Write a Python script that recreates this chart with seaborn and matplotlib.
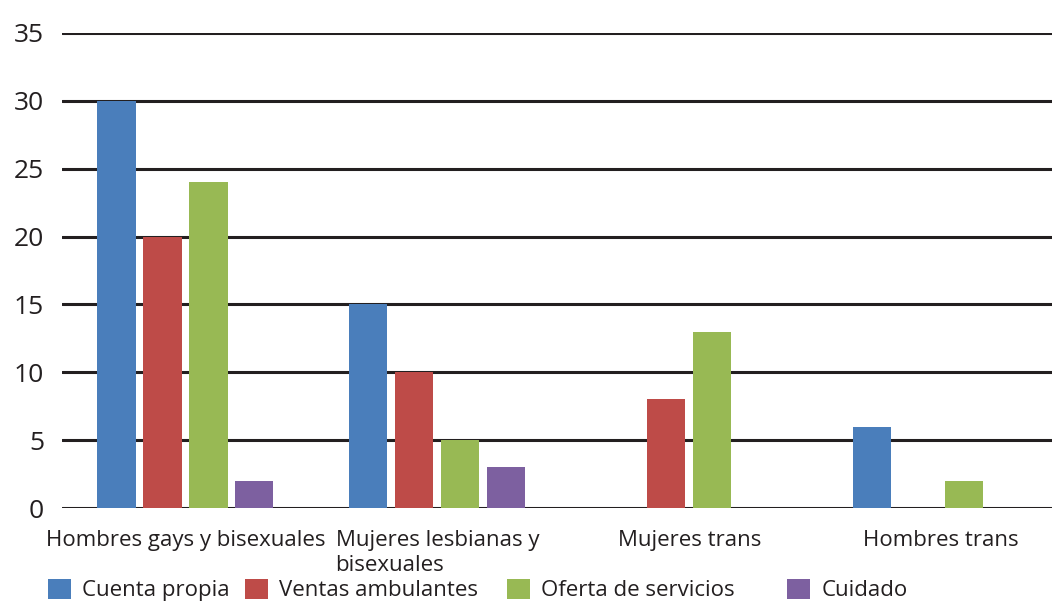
import numpy as np
import pandas as pd
import matplotlib
matplotlib.use("Agg")
import matplotlib.pyplot as plt
import seaborn as sns
from matplotlib.patches import Patch

# Data
groups = ["Hombres gays y bisexuales", "Mujeres lesbianas y\nbisexuales",
          "Mujeres trans", "Hombres trans"]
series = ["Cuenta propia", "Ventas ambulantes", "Oferta de servicios", "Cuidado"]
cuenta_propia = [30, 15, np.nan, 6]
ventas_ambulantes = [20, 10, 8, np.nan]
oferta_servicios = [24, 5, 13, 2]
cuidado = [2, 3, np.nan, np.nan]
colors = ["#4A7EBB", "#BE4B48", "#98B954", "#7D60A0"]

rows = []
for name, vals in zip(series, [cuenta_propia, ventas_ambulantes, oferta_servicios, cuidado]):
    for g, v in zip(groups, vals):
        rows.append({"grupo": g, "serie": name, "valor": v})
df = pd.DataFrame(rows)

sns.set_style("white")
plt.rcParams["font.family"] = ["Open Sans", "DejaVu Sans"]
text_color = "#231F20"

fig = plt.figure(figsize=(10.52, 6.05), dpi=100)
ax = fig.add_axes([62 / 1052, 1 - 508 / 605, 1 - 62 / 1052, (508 - 33) / 605])

sns.barplot(data=df, x="grupo", y="valor", hue="serie", hue_order=series,
            order=groups, palette=colors, saturation=1, width=0.73, gap=0.17,
            linewidth=0, ax=ax, legend=False, zorder=3)

ax.set_ylim(0, 35)
ax.set_xlim(-0.49, 3.44)
ax.set_yticks(range(0, 36, 5))
for y in range(0, 36, 5):
    ax.axhline(y, color=text_color, lw=2.2, zorder=2)
for s in ax.spines.values():
    s.set_visible(False)
ax.set_xlabel("")
ax.set_ylabel("")
ax.tick_params(axis="y", length=0, pad=13, labelsize=19, labelcolor=text_color)
ax.tick_params(axis="x", length=0, pad=16, labelsize=16, labelcolor=text_color)
for lab in ax.get_xticklabels():
    lab.set_multialignment("left")
    lab.set_verticalalignment("top")
    lab.set_linespacing(1.26)

# legend entries placed one by one, as in the reference
legend_x = [48, 245, 507, 787]
for name, c, x in zip(series, colors, legend_x):
    fig.legend([Patch(facecolor=c, edgecolor="none")], [name],
               loc="center left", bbox_to_anchor=(x / 1052, 1 - 590 / 605),
               frameon=False, fontsize=16, handlelength=1.04, handleheight=1.04,
               handletextpad=0.5, borderpad=0, borderaxespad=0,
               labelcolor=text_color)

fig.savefig("out.png", dpi=100)
